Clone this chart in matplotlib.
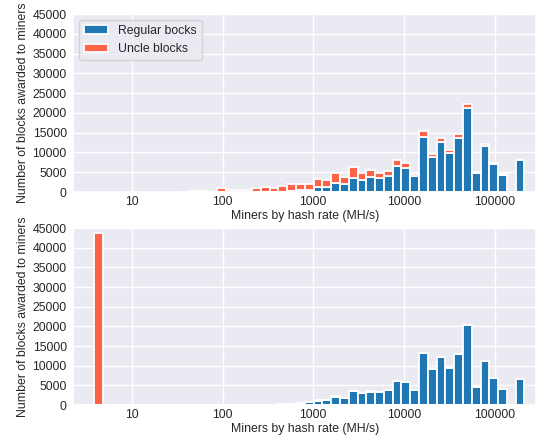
import numpy as np
import matplotlib
matplotlib.use("Agg")
import matplotlib.pyplot as plt
import seaborn as sns

sns.set_theme(style="darkgrid")
plt.rcParams['font.family'] = ['Liberation Sans', 'DejaVu Sans']

# bins are geometric, edges at 1.25**n MH/s
ratio = 1.25

# top chart: regular blocks and uncle blocks (stacked)
top_bins = np.arange(16, 55)
top_regular = [0, 0, 0, 0, 0, 0, 0, 0, 0, 0, 0, 100, 200, 450, 550,
               1220, 1220, 2280, 1950, 3620, 3030, 3710, 3450, 4130, 6570,
               6100, 4040, 13820, 8770, 12720, 9770, 13730, 21310, 4720,
               11700, 7150, 4300, 0, 8010]
top_uncle = [100, 150, 350, 0, 1090, 500, 500, 400, 1010, 1180, 930, 1420,
             1740, 1550, 1600, 2180, 1930, 2610, 1840, 2610, 1860, 1850,
             1440, 1260, 1520, 1150, 560, 1680, 830, 1010, 760, 850, 850,
             420, 350, 250, 170, 0, 60]

# bottom chart
bot_bins = np.arange(6, 55)
bot_regular = [0] * 19 + [50, 100, 200, 330, 500, 700, 1100, 1150, 2080,
                          1820, 3480, 2970, 3390, 3220, 3730, 6100, 5850,
                          3810, 13220, 9070, 12120, 9410, 13050, 20260, 4490,
                          11100, 6860, 4070, 0, 6610]
bot_uncle = [43900] + [0] * 24 + [250, 0, 250, 0, 0, 0, 250] + [0] * 17

blue = '#1f77b4'
red = '#ff6347'
fs = 8.8

fig = plt.figure(figsize=(5.37, 4.38), dpi=100)
ax1 = fig.add_axes([0.136, 0.5616, 0.863, 0.4064])
ax2 = fig.add_axes([0.136, 0.0753, 0.863, 0.4037])


def draw(ax, bins, reg, unc, legend=False):
    left = ratio ** bins
    width = ratio ** (bins + 1) - left
    reg = np.array(reg, dtype=float)
    unc = np.array(unc, dtype=float)
    ax.bar(left, reg, width=width, align='edge', color=blue,
           edgecolor='white', linewidth=1.3, label='Regular bocks')
    ax.bar(left, unc, width=width, bottom=reg, align='edge', color=red,
           edgecolor='white', linewidth=1.3, label='Uncle blocks')
    ax.set_xscale('log')
    ax.set_xlim(2.24, 290000)
    ax.set_ylim(0, 45000)
    ax.set_yticks(np.arange(0, 45001, 5000))
    ax.set_xticks([10, 100, 1000, 10000, 100000])
    ax.set_xticklabels(['10', '100', '1000', '10000', '100000'])
    ax.minorticks_off()
    ax.tick_params(axis='x', labelsize=fs, length=0, pad=3.2)
    ax.tick_params(axis='y', labelsize=fs, length=0, pad=4.5)
    ax.set_xlabel('Miners by hash rate (MH/s)', fontsize=fs, labelpad=1.2)
    ax.set_ylabel('Number of blocks awarded to miners', fontsize=fs, labelpad=2.5)
    if legend:
        ax.legend(loc='upper left', fontsize=fs)


draw(ax1, top_bins, top_regular, top_uncle, legend=True)
draw(ax2, bot_bins, bot_regular, bot_uncle)

fig.savefig('out.png', dpi=100)
